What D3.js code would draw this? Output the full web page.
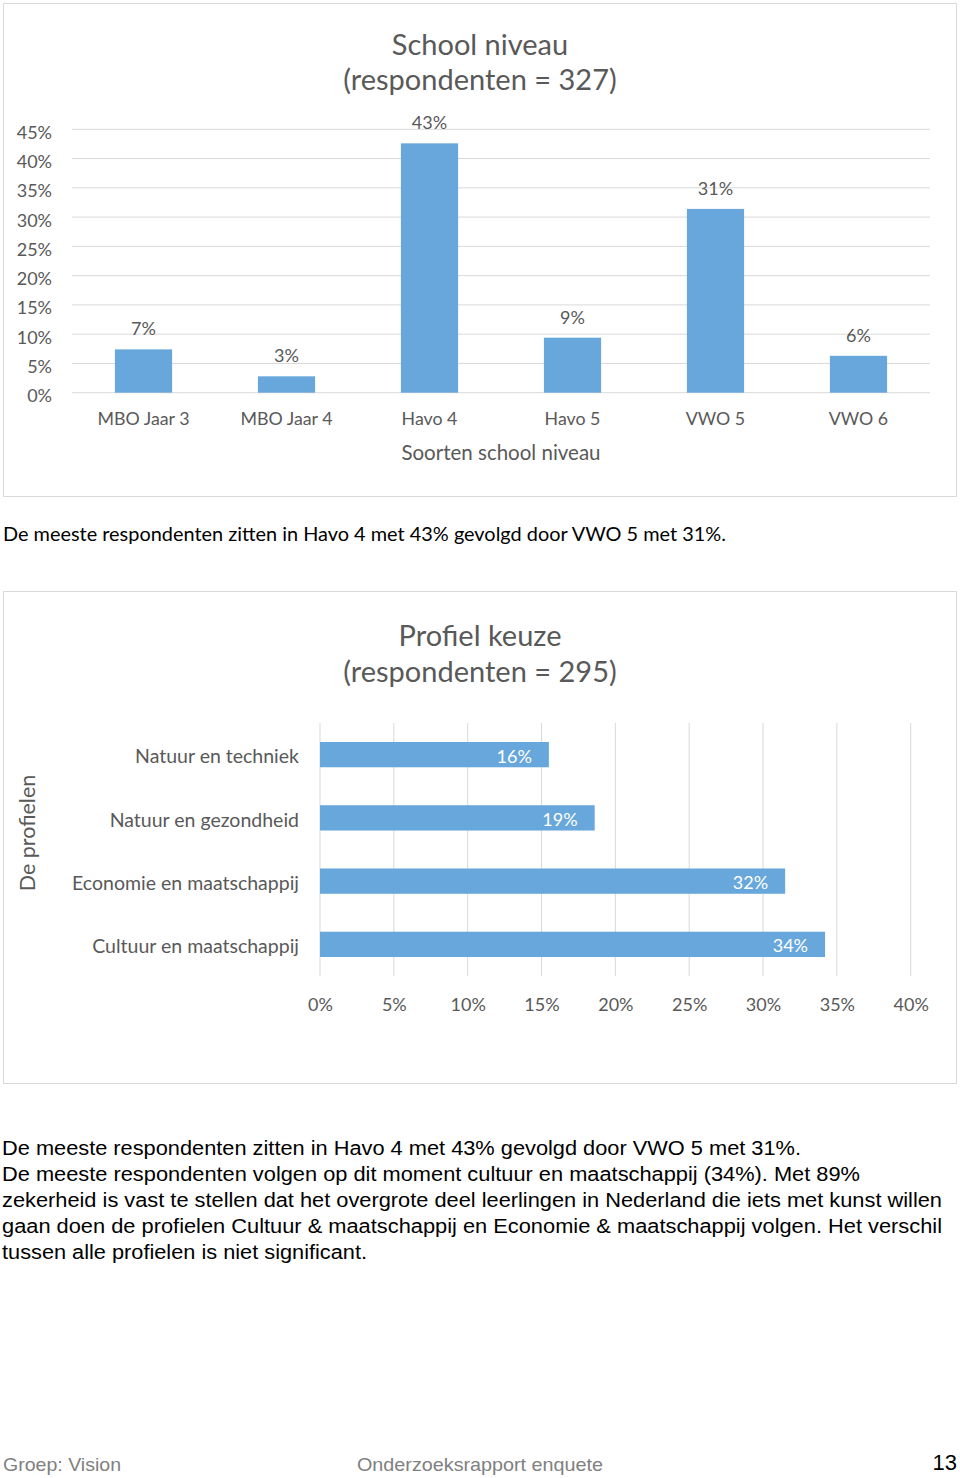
<!DOCTYPE html>
<html>
<head>
<meta charset="utf-8">
<script src="https://cdn.jsdelivr.net/npm/d3@7"></script>
<style>
  body { margin: 0; background: #fff; }
  svg { display: block; }
  .chart text { font-family: Lato, "Open Sans", sans-serif; fill: #595959; }
  .axis path, .axis line { display: none; }
  .grid line { stroke: #d9d9d9; stroke-width: 1; }
</style>
</head>
<body>
<svg id="page" width="960" height="1478"></svg>
<script>
// school level chart data
var schoolCats = ["MBO Jaar 3", "MBO Jaar 4", "Havo 4", "Havo 5", "VWO 5", "VWO 6"];
var schoolValues = [7.4, 2.8, 42.6, 9.4, 31.4, 6.3];
var schoolTicks = [0, 5, 10, 15, 20, 25, 30, 35, 40, 45];

// profile chart data
var profielCats = ["Natuur en techniek", "Natuur en gezondheid", "Economie en maatschappij", "Cultuur en maatschappij"];
var profielValues = [15.5, 18.6, 31.5, 34.2];
var profielTicks = [0, 5, 10, 15, 20, 25, 30, 35, 40];

var pct = function(d) { return d3.format(".0f")(d) + "%"; };
var barColor = "#67a7db";

var svg = d3.select("#page");

// ---------- chart 1: School niveau ----------
var c1 = svg.append("g").attr("class", "chart");
c1.append("rect")
    .attr("x", 3.5).attr("y", 3.5).attr("width", 953).attr("height", 493)
    .attr("fill", "#fff").attr("stroke", "#d9d9d9");

c1.append("text").attr("x", 480).attr("y", 55).attr("text-anchor", "middle")
    .style("font-size", "29px").text("School niveau");
c1.append("text").attr("x", 480).attr("y", 90).attr("text-anchor", "middle")
    .style("font-size", "29px").text("(respondenten = 327)");

var m1 = {left: 72, right: 930, top: 129.3, bottom: 392.7};
var x1 = d3.scaleBand().domain(schoolCats).range([m1.left, m1.right]).paddingInner(0.6).paddingOuter(0.3),
    y1 = d3.scaleLinear().domain([0, 45]).range([m1.bottom, m1.top]);

c1.append("g").attr("class", "grid")
  .selectAll("line").data(schoolTicks).enter().append("line")
    .attr("x1", m1.left).attr("x2", m1.right)
    .attr("y1", function(d) { return y1(d); })
    .attr("y2", function(d) { return y1(d); });

var ya1 = c1.append("g").attr("class", "axis")
    .attr("transform", "translate(" + (m1.left - 8) + ",0)")
    .call(d3.axisLeft(y1).tickValues(schoolTicks).tickSize(0).tickPadding(12).tickFormat(function(d) { return d + "%"; }));
ya1.selectAll("text").style("font-size", "18px").attr("dy", "0.5em");

var xa1 = c1.append("g").attr("class", "axis")
    .attr("transform", "translate(0," + m1.bottom + ")")
    .call(d3.axisBottom(x1).tickSize(0).tickPadding(20));
xa1.selectAll("text").style("font-size", "17.8px");

c1.selectAll(".bar1").data(schoolValues).enter().append("rect")
    .attr("class", "bar1")
    .attr("x", function(d, i) { return x1(schoolCats[i]); })
    .attr("y", function(d) { return y1(d); })
    .attr("width", x1.bandwidth())
    .attr("height", function(d) { return y1(0) - y1(d); })
    .attr("fill", barColor);

c1.selectAll(".lab1").data(schoolValues).enter().append("text")
    .attr("class", "lab1")
    .attr("x", function(d, i) { return x1(schoolCats[i]) + x1.bandwidth() / 2; })
    .attr("y", function(d) { return y1(d) - 14; })
    .attr("text-anchor", "middle")
    .style("font-size", "18px")
    .text(pct);

c1.append("text").attr("x", (m1.left + m1.right) / 2).attr("y", 460).attr("text-anchor", "middle")
    .style("font-size", "20.5px").text("Soorten school niveau");

// caption 1
svg.append("text").attr("x", 3).attr("y", 541)
    .attr("textLength", 723).attr("lengthAdjust", "spacingAndGlyphs")
    .style("font-family", "Lato, sans-serif").style("font-size", "19px").attr("fill", "#000")
    .text("De meeste respondenten zitten in Havo 4 met 43% gevolgd door VWO 5 met 31%.");

// ---------- chart 2: Profiel keuze ----------
var c2 = svg.append("g").attr("class", "chart");
c2.append("rect")
    .attr("x", 3.5).attr("y", 591.5).attr("width", 953).attr("height", 492)
    .attr("fill", "#fff").attr("stroke", "#d9d9d9");

c2.append("text").attr("x", 480).attr("y", 646).attr("text-anchor", "middle")
    .style("font-size", "29px").text("Profiel keuze");
c2.append("text").attr("x", 480).attr("y", 682).attr("text-anchor", "middle")
    .style("font-size", "29px").text("(respondenten = 295)");

var m2 = {left: 320, top: 723, bottom: 976};
var x2 = d3.scaleLinear().domain([0, 40]).range([m2.left, 910.7]),
    y2 = d3.scaleBand().domain(profielCats).range([m2.top, m2.bottom]).paddingInner(0.6).paddingOuter(0.3);

c2.append("g").attr("class", "grid")
  .selectAll("line").data(profielTicks).enter().append("line")
    .attr("x1", function(d) { return x2(d); })
    .attr("x2", function(d) { return x2(d); })
    .attr("y1", m2.top).attr("y2", m2.bottom);

var xa2 = c2.append("g").attr("class", "axis")
    .attr("transform", "translate(0," + m2.bottom + ")")
    .call(d3.axisBottom(x2).tickValues(profielTicks).tickSize(0).tickPadding(22).tickFormat(function(d) { return d + "%"; }));
xa2.selectAll("text").style("font-size", "18px");

var ya2 = c2.append("g").attr("class", "axis")
    .attr("transform", "translate(" + m2.left + ",0)")
    .call(d3.axisLeft(y2).tickSize(0).tickPadding(21));
ya2.selectAll("text").style("font-size", "19.5px").attr("dy", "0.45em");

c2.selectAll(".bar2").data(profielValues).enter().append("rect")
    .attr("class", "bar2")
    .attr("x", x2(0))
    .attr("y", function(d, i) { return y2(profielCats[i]); })
    .attr("width", function(d) { return x2(d) - x2(0); })
    .attr("height", y2.bandwidth())
    .attr("fill", barColor);

c2.selectAll(".lab2").data(profielValues).enter().append("text")
    .attr("class", "lab2")
    .attr("x", function(d) { return x2(d) - 17; })
    .attr("y", function(d, i) { return y2(profielCats[i]) + y2.bandwidth() / 2; })
    .attr("dy", "0.45em")
    .attr("text-anchor", "end")
    .style("font-size", "18px").style("fill", "#fff")
    .text(pct);

c2.append("text")
    .attr("transform", "translate(35,833) rotate(-90)")
    .attr("text-anchor", "middle")
    .style("font-size", "21.5px").text("De profielen");

// ---------- body text ----------
var lines = [
  ["De meeste respondenten zitten in Havo 4 met 43% gevolgd door VWO 5 met 31%.", 799],
  ["De meeste respondenten volgen op dit moment cultuur en maatschappij (34%). Met 89%", 858],
  ["zekerheid is vast te stellen dat het overgrote deel leerlingen in Nederland die iets met kunst willen", 940],
  ["gaan doen de profielen Cultuur & maatschappij en Economie & maatschappij volgen. Het verschil", 940],
  ["tussen alle profielen is niet significant.", 365]
];
svg.selectAll(".body").data(lines).enter().append("text")
    .attr("class", "body")
    .attr("x", 2)
    .attr("y", function(d, i) { return 1155 + i * 26; })
    .attr("textLength", function(d) { return d[1]; })
    .attr("lengthAdjust", "spacingAndGlyphs")
    .style("font-family", "'Liberation Sans', Arial, sans-serif")
    .style("font-size", "20px").attr("fill", "#000")
    .text(function(d) { return d[0]; });

// ---------- footer ----------
var foot = svg.append("g").style("font-family", "'Liberation Sans', Arial, sans-serif");
foot.append("text").attr("x", 3).attr("y", 1471).attr("textLength", 118).attr("lengthAdjust", "spacingAndGlyphs")
    .style("font-size", "19px").attr("fill", "#808080").text("Groep: Vision");
foot.append("text").attr("x", 357).attr("y", 1471).attr("textLength", 246).attr("lengthAdjust", "spacingAndGlyphs")
    .style("font-size", "19px").attr("fill", "#808080").text("Onderzoeksrapport enquete");
foot.append("text").attr("x", 957).attr("y", 1470).attr("text-anchor", "end")
    .style("font-size", "22px").attr("fill", "#000").text("13");
</script>
</body>
</html>
